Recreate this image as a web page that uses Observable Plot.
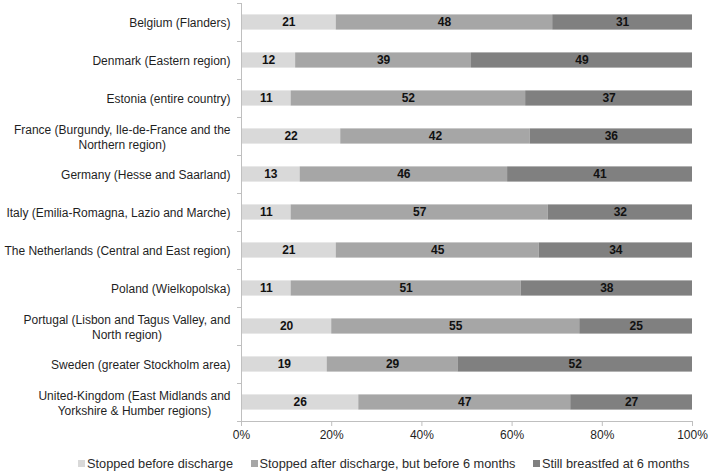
<!DOCTYPE html>
<html><head><meta charset="utf-8">
<script src="https://cdn.jsdelivr.net/npm/d3@7"></script>
<script src="https://cdn.jsdelivr.net/npm/@observablehq/plot@0.6"></script>
<style>
body{margin:0;background:#fff;font-family:"Liberation Sans",Arial,sans-serif;}
#legend{position:relative;height:26px;box-sizing:border-box;font-size:12.75px;color:#2b2b2b;display:flex;gap:17.5px;padding-left:78px;padding-top:4px;align-items:center;line-height:15px;}
.item{display:flex;align-items:center;white-space:nowrap;}
.sw{width:7px;height:7px;margin-right:2px;flex:none;}
</style></head><body><div id="chart"></div><div id="legend"></div><script>
const countries = [
  "Belgium (Flanders)",
  "Denmark (Eastern region)",
  "Estonia (entire country)",
  "France (Burgundy, Ile-de-France and the\nNorthern region)",
  "Germany (Hesse and Saarland)",
  "Italy (Emilia-Romagna, Lazio and Marche)",
  "The Netherlands (Central and East region)",
  "Poland (Wielkopolska)",
  "Portugal (Lisbon and Tagus Valley, and\nNorth region)",
  "Sweden (greater Stockholm area)",
  "United-Kingdom (East Midlands and\nYorkshire & Humber regions)"
];
const stoppedBefore  = [21, 12, 11, 22, 13, 11, 21, 11, 20, 19, 26];
const stoppedAfter   = [48, 39, 52, 42, 46, 57, 45, 51, 55, 29, 47];
const stillBreastfed = [31, 49, 37, 36, 41, 32, 34, 38, 25, 52, 27];
const seriesNames = ["Stopped before discharge", "Stopped after discharge, but before 6 months", "Still breastfed at 6 months"];
const seriesColors = ["#d9d9d9", "#a6a6a6", "#808080"];
const xTicks = [0, 20, 40, 60, 80, 100];

const seriesValues = [stoppedBefore, stoppedAfter, stillBreastfed];
const data = [];
countries.forEach((c, i) => seriesNames.forEach((s, j) => data.push({country: c, series: s, value: seriesValues[j][i]})));

const W = 709, H = 448, mTop = 3, mBottom = 27, mLeft = 241, mRight = 17;
const step = (H - mTop - mBottom) / countries.length;
const gridColor = "#bfbfbf";
const textColor = "#1f1f1f";

// measure label lines for centered multi-line labels
const ctx = document.createElement("canvas").getContext("2d");
ctx.font = "12px 'Liberation Sans', Arial, sans-serif";
const labelMarks = countries.map(c => {
  const maxW = d3.max(c.split("\n"), l => ctx.measureText(l).width);
  return Plot.text([c], {
    y: d => d, text: d => d, frameAnchor: "left", textAnchor: "middle",
    dx: -(11 + maxW / 2), lineHeight: 1.25, fontSize: 12, fill: textColor
  });
});

const chart = Plot.plot({
  width: W, height: H,
  marginTop: mTop, marginBottom: mBottom, marginLeft: mLeft, marginRight: mRight,
  style: {fontFamily: "'Liberation Sans', Arial, sans-serif", background: "#fff"},
  x: {domain: [0, 100], axis: null},
  y: {domain: countries, paddingInner: 0.6, paddingOuter: 0.3, round: false, axis: null},
  color: {domain: seriesNames, range: seriesColors},
  marks: [
    Plot.barX(data, Plot.stackX({x: "value", y: "country", fill: "series", order: seriesNames})),
    Plot.text(data, Plot.stackX({x: "value", y: "country", z: "series", order: seriesNames, text: "value",
      fontWeight: "bold", fontSize: 12, fill: "#111"})),
    Plot.ruleX([0], {stroke: gridColor}),
    Plot.ruleY(countries, {y: d => d, x1: 0, x2: 0, insetLeft: -4, dy: -step / 2, stroke: gridColor}),
    Plot.ruleY(countries.slice(-1), {y: d => d, x1: 0, x2: 100, insetLeft: -4, dy: step / 2, stroke: gridColor}),
    Plot.axisX({ticks: xTicks, tickSize: 5, tickPadding: 4, tickFormat: d => d + "%", stroke: gridColor, fill: textColor, fontSize: 12, label: null}),
    ...labelMarks
  ]
});
document.getElementById("chart").appendChild(chart);

const legend = document.getElementById("legend");
seriesNames.forEach((s, i) => {
  const item = document.createElement("div");
  item.className = "item";
  const sw = document.createElement("span");
  sw.className = "sw";
  sw.style.background = seriesColors[i];
  const t = document.createElement("span");
  t.textContent = s;
  item.appendChild(sw); item.appendChild(t);
  legend.appendChild(item);
});
</script></body></html>
